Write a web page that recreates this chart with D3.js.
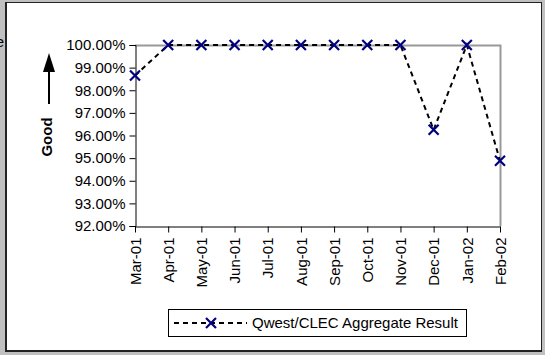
<!DOCTYPE html>
<html><head><meta charset="utf-8">
<script src="https://cdn.jsdelivr.net/npm/d3@7"></script>
<style>body{margin:0;background:#c0c0c0;}svg{display:block;font-family:"Liberation Sans",Arial,sans-serif;}</style>
</head><body><svg id="c" width="545" height="355"></svg>
<script>
const months = ["Mar-01","Apr-01","May-01","Jun-01","Jul-01","Aug-01","Sep-01","Oct-01","Nov-01","Dec-01","Jan-02","Feb-02"];
const values = [98.65,100,100,100,100,100,100,100,100,96.25,100,94.88];
const yTicks = [92,93,94,95,96,97,98,99,100];
const seriesName = "Qwest/CLEC Aggregate Result";
const FF = "'Liberation Sans',Arial,sans-serif";

const svg = d3.select("#c");
svg.append("rect").attr("x",0).attr("y",0).attr("width",545).attr("height",355).attr("fill","#c0c0c0");
svg.append("rect").attr("x",5).attr("y",2).attr("width",537).attr("height",350).attr("fill","#fff");
svg.append("line").attr("x1",5).attr("x2",542).attr("y1",2.5).attr("y2",2.5).attr("stroke","#222");
svg.append("line").attr("x1",6).attr("x2",6).attr("y1",2).attr("y2",352).attr("stroke","#222").attr("stroke-width",2);
svg.append("line").attr("x1",541.5).attr("x2",541.5).attr("y1",2).attr("y2",352).attr("stroke","#222");
svg.append("line").attr("x1",5).attr("x2",542).attr("y1",351).attr("y2",351).attr("stroke","#222").attr("stroke-width",2);

svg.append("text").attr("x",4).attr("y",47).attr("text-anchor","end").attr("font-size",15).attr("font-family",FF).text("e");

const L=135,R=500,T=45,B=226;
const x = d3.scalePoint().domain(months).range([L,R]);
const y = d3.scaleLinear().domain([92,100]).range([B,T]);

svg.append("path").attr("d",`M${L},${T+0.5}H${R+0.5}V${B}`).attr("fill","none").attr("stroke","#999").attr("stroke-width",2);

const ya = svg.append("g").attr("transform",`translate(${L+0.5},0)`)
  .call(d3.axisLeft(y).tickValues(yTicks).tickSize(6).tickPadding(4).tickFormat(d=>d.toFixed(2)+"%"));
ya.selectAll("text").attr("font-size",15).attr("fill","#000").attr("font-family",FF);
ya.select(".domain").attr("stroke","#000");
ya.selectAll(".tick line").attr("stroke","#000");

const xa = svg.append("g").attr("transform",`translate(0,${B+0.5})`)
  .call(d3.axisBottom(x).tickSize(6).tickSizeOuter(0));
xa.select(".domain").attr("stroke","#000");
xa.selectAll(".tick line").attr("stroke","#000");
xa.selectAll("text").attr("font-size",15).attr("fill","#000").attr("font-family",FF)
  .attr("transform","rotate(-90)").attr("text-anchor","end").attr("x",-11).attr("y",0).attr("dy","0.35em");

svg.append("text").attr("transform","translate(52,137) rotate(-90)").attr("text-anchor","middle")
  .attr("font-size",15).attr("font-weight","bold").attr("font-family",FF).text("Good");
svg.append("line").attr("x1",49).attr("x2",49).attr("y1",104).attr("y2",68).attr("stroke","#000").attr("stroke-width",2);
svg.append("path").attr("d","M49,53L55,72L43,72Z").attr("fill","#000");

const line = d3.line().x((d,i)=>x(months[i])).y(d=>y(d));
svg.append("path").datum(values).attr("d",line).attr("fill","none").attr("stroke","#000")
  .attr("stroke-width",2).attr("stroke-dasharray","5,4");

function xMark(g,cx,cy){
  const s=5;
  g.append("path").attr("d",`M${cx-s},${cy-s}L${cx+s},${cy+s}M${cx-s},${cy+s}L${cx+s},${cy-s}`)
   .attr("stroke","#000080").attr("stroke-width",2.2).attr("fill","none");
}
const mg = svg.append("g");
values.forEach((v,i)=>xMark(mg,x(months[i]),y(v)));

svg.append("rect").attr("x",168.5).attr("y",309.5).attr("width",298).attr("height",27).attr("fill","#fff").attr("stroke","#000");
svg.append("line").attr("x1",174).attr("x2",247).attr("y1",323).attr("y2",323).attr("stroke","#000").attr("stroke-width",2).attr("stroke-dasharray","5,4");
xMark(svg,211,323);
svg.append("text").attr("x",252).attr("y",328).attr("font-size",15).attr("font-family",FF).text(seriesName);
</script></body></html>
